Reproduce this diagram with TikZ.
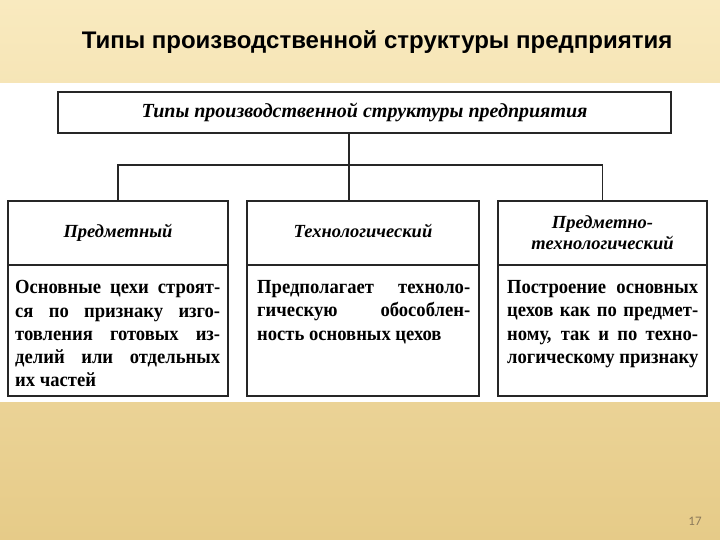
\documentclass[tikz,border=0pt]{standalone}
\usepackage{fontspec}
\setmainfont{Liberation Serif}
\newfontfamily\titlefont{Liberation Sans}
\newfontfamily\bodyfont[FakeStretch=0.93]{Liberation Serif}
\newfontfamily\numfont{Carlito}
\usepackage{tikz}
\usetikzlibrary{calc}
\definecolor{slidetop}{HTML}{F9EABF}
\definecolor{slidebot}{HTML}{E6CB88}
\definecolor{pagenum}{HTML}{8C7A5A}
\newcommand\jrow[2]{\makebox[#1][s]{#2}\\}

\begin{document}
\begin{tikzpicture}[x=1pt,y=-1pt,
    box/.style={draw=black!85,line width=1.1pt,fill=white,inner sep=0pt},
    head/.style={box,minimum height=64pt,align=center,
      font=\fontsize{18.5}{21}\selectfont\bfseries\itshape},
    oneline/.style={text height=12pt,text depth=4pt},
    body/.style={inner sep=0pt,anchor=north west,align=left,
      font=\bodyfont\fontsize{20}{23.2}\selectfont\bfseries},
    link/.style={black!85,line width=1.1pt}]
  \useasboundingbox (0,0) rectangle (720,540);
  \shade[top color=slidetop,bottom color=slidebot] (0,0) rectangle (720,540);
  \fill[white] (0,83) rectangle (720,402);
  \node[font=\titlefont\fontsize{24}{28}\selectfont\bfseries] (title) at (377,42) {Типы производственной структуры предприятия};
  % scheme
  \node[box,minimum width=613pt,minimum height=41pt,font=\fontsize{20}{24}\selectfont\bfseries\itshape] (top) at (364.5,112.5) {Типы производственной структуры предприятия};
  \node[head,oneline,minimum width=220pt] (hdA) at (118,233) {Предметный};
  \node[head,oneline,minimum width=232pt] (hdB) at (363,233) {Технологический};
  \node[head,minimum width=209pt] (hdC) at (602.5,233) {Предметно-\\технологический};
  \node[box,minimum width=220pt,minimum height=131pt] (bxA) at (118,330.5) {};
  \node[box,minimum width=232pt,minimum height=131pt] (bxB) at (363,330.5) {};
  \node[box,minimum width=209pt,minimum height=131pt] (bxC) at (602.5,330.5) {};
  \coordinate (fork) at (349,165);
  \draw[link] (top.south -| fork) -- (fork |- hdB.north);
  \draw[link] (hdA.north) -- (hdA.north |- fork) -- (hdC.north |- fork) -- (hdC.north);
  % texts
  \node[body] (txA) at (15,280.5) {\jrow{205pt}{Основные цехи строят-}\jrow{205pt}{ся по признаку изго-}\jrow{205pt}{товления готовых из-}\jrow{205pt}{делий или отдельных}их частей};
  \node[body] (txB) at (257,280.5) {\jrow{213pt}{Предполагает техноло-}\jrow{213pt}{гическую обособлен-}ность основных цехов};
  \node[body] (txC) at (507,280.5) {\jrow{191pt}{Построение основных}\jrow{191pt}{цехов как по предмет-}\jrow{191pt}{ному, так и по техно-}логическому признаку};
  \node[font=\numfont\fontsize{13}{15}\selectfont,text=pagenum] (pg) at (695,521) {17};
\end{tikzpicture}
\end{document}
